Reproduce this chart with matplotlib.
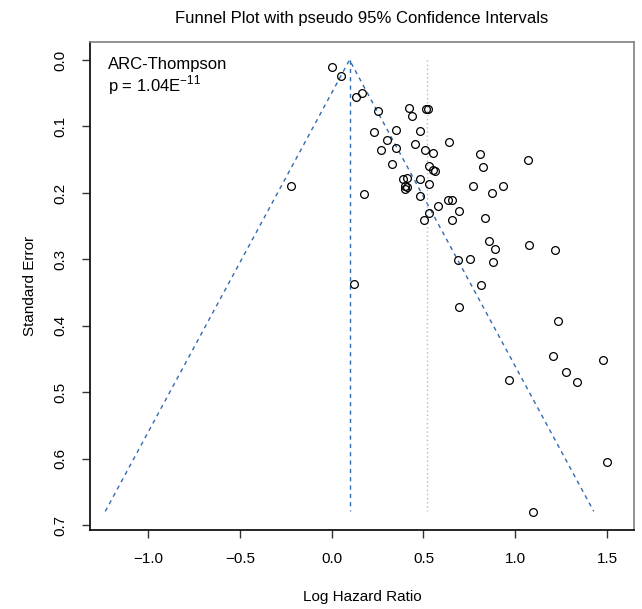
import matplotlib
matplotlib.use('Agg')
import matplotlib.pyplot as plt
import numpy as np

plt.rcParams['font.family'] = ['Liberation Sans', 'DejaVu Sans']
plt.rcParams['mathtext.fontset'] = 'custom'
plt.rcParams['mathtext.rm'] = 'Liberation Sans'

# study estimates (log hazard ratio) and their standard errors
LogHR = [0.000, 0.049, 0.132, 0.165, 0.254, 0.420, 0.514, 0.527, 0.439, 0.232,
         0.350, 0.483, 0.300, 0.452, 0.638, 0.269, 0.350, 0.507, 0.554, 0.807,
         1.070, 0.330, 0.530, 0.554, 0.561, 0.825, 0.387, 0.412, 0.483, 0.530,
         0.399, 0.412, 0.398, -0.224, 0.174, 0.483, 0.770, 0.934, 0.872, 0.632,
         0.654, 0.578, 0.694, 0.532, 0.501, 0.657, 0.834, 0.856, 0.890, 1.075,
         1.219, 0.688, 0.752, 0.881, 0.122, 0.812, 0.694, 1.233, 1.204, 1.480,
         1.279, 0.965, 1.339, 1.502, 1.099]
SE    = [0.010, 0.024, 0.055, 0.049, 0.077, 0.072, 0.074, 0.073, 0.085, 0.109,
         0.106, 0.107, 0.120, 0.126, 0.124, 0.135, 0.132, 0.136, 0.140, 0.142,
         0.150, 0.156, 0.160, 0.166, 0.167, 0.161, 0.179, 0.177, 0.179, 0.186,
         0.190, 0.191, 0.194, 0.189, 0.202, 0.204, 0.190, 0.190, 0.200, 0.210,
         0.210, 0.220, 0.227, 0.230, 0.240, 0.240, 0.238, 0.273, 0.284, 0.278,
         0.286, 0.301, 0.299, 0.304, 0.337, 0.338, 0.372, 0.392, 0.446, 0.451,
         0.469, 0.482, 0.485, 0.605, 0.680]

pooled     = 0.097   # pooled estimate (funnel apex)
adjusted   = 0.521   # second estimate (dotted line)
seMax      = 0.679
z95        = 1.96
xTicks     = [-1.0, -0.5, 0.0, 0.5, 1.0, 1.5]
yTicks     = [0.0, 0.1, 0.2, 0.3, 0.4, 0.5, 0.6, 0.7]
funnelCol  = '#2f6bb0'
dottedCol  = '#9cc6e2'

fig = plt.figure(figsize=(6.42, 6.09), dpi=100)
ax = fig.add_axes([0.1402, 0.1297, 0.8473, 0.8013])

# funnel
ax.plot([pooled - z95*seMax, pooled, pooled + z95*seMax], [seMax, 0, seMax],
        color=funnelCol, lw=1.0, ls=(0, (3, 3)))
ax.plot([pooled, pooled], [0, seMax], color=funnelCol, lw=1.0, ls=(0, (3, 3)))
ax.plot([adjusted, adjusted], [0, seMax], color=dottedCol, lw=1.0, ls=(0, (1, 2)))

ax.plot(LogHR, SE, 'o', mfc='none', mec='black', ms=5.6, mew=0.9)

ax.set_xlim(-1.317, 1.647)
ax.set_ylim(0.707, -0.027)
ax.set_xticks(xTicks)
ax.set_xticklabels(['\u22121.0', '\u22120.5', '0.0', '0.5', '1.0', '1.5'])
ax.set_yticks(yTicks)
ax.set_yticklabels(['{:.1f}'.format(v) for v in yTicks], rotation=90, va='center')
ax.tick_params(length=6, width=1.0, pad=10, labelsize=11, color='#333333')

for side in ['top', 'right']:
	ax.spines[side].set_color('#808080')
	ax.spines[side].set_linewidth(1.2)
for side in ['left', 'bottom']:
	ax.spines[side].set_color('black')
	ax.spines[side].set_linewidth(1.2)

ax.set_xlabel('Log Hazard Ratio', fontsize=11, labelpad=17)
ax.set_ylabel('Standard Error', fontsize=11, labelpad=12)
ax.set_title('Funnel Plot with pseudo 95% Confidence Intervals', fontsize=12, pad=14)

ax.text(0.0325, 0.953, 'ARC-Thompson', transform=ax.transAxes, fontsize=12, va='center', ha='left')
ax.text(0.0325, 0.912, r'p = 1.04E$^{\mathregular{-11}}$', transform=ax.transAxes, fontsize=12, va='center', ha='left')

plt.savefig('out.png', dpi=100)
plt.close(fig)
